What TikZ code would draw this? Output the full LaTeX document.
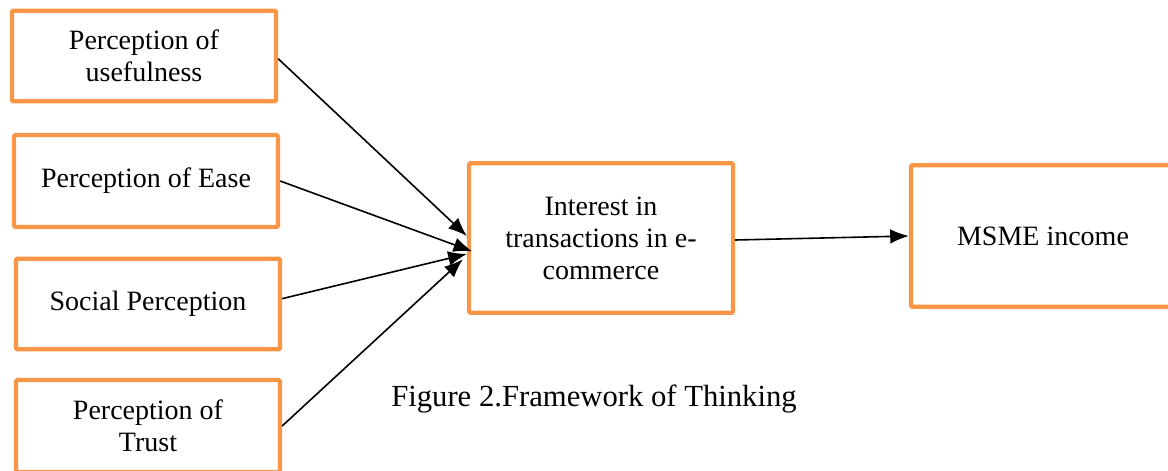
\documentclass[tikz,border=0pt]{standalone}
\usepackage{fontspec}
\setmainfont{Liberation Serif}
\usetikzlibrary{arrows.meta}
\definecolor{boxorange}{RGB}{247,150,70}

\begin{document}
\begin{tikzpicture}[x=0.75pt,y=-0.75pt,
  factor/.style={draw=boxorange, line width=3.2pt, fill=white, rounded corners=1pt,
    minimum width=198pt, minimum height=68pt, inner sep=2pt, align=center,
    font=\fontsize{21}{24}\selectfont},
  link/.style={-{Latex[length=14pt,width=11pt]}, line width=1.2pt}]
\useasboundingbox (0,0) rectangle (1168,471);
% determinants
\node[factor] (use) at (144,56) {Perception of\\usefulness};
\node[factor, minimum height=69pt] (ease) at (146,181) {Perception of Ease};
\node[factor] (social) at (148,304) {Social Perception};
\node[factor, minimum height=69pt] (trust) at (148,426) {Perception of\\Trust};
% mediator and outcome
\node[factor, minimum height=112pt] (interest) at (601,238) {Interest in\\transactions in e-\\commerce};
\node[factor, minimum height=106pt] (income) at (1043,236) {MSME income};
% arrows
\draw[link] ([yshift=-2pt]use.east) -- ([yshift=1.5pt]interest.west);
\draw[link] (ease.east) -- ([shift={(4pt,-10pt)}]interest.west);
\draw[link] ([yshift=4pt]social.east) -- ([yshift=-12pt]interest.west);
\draw[link] (trust.east) -- ([shift={(-3pt,-16pt)}]interest.west);
\draw[link] ([yshift=-1.5pt]interest.east) -- (income.west);
% caption
\node[font=\fontsize{23}{26}\selectfont] (caption) at (594,399) {Figure 2.Framework of Thinking};
\end{tikzpicture}
\end{document}
